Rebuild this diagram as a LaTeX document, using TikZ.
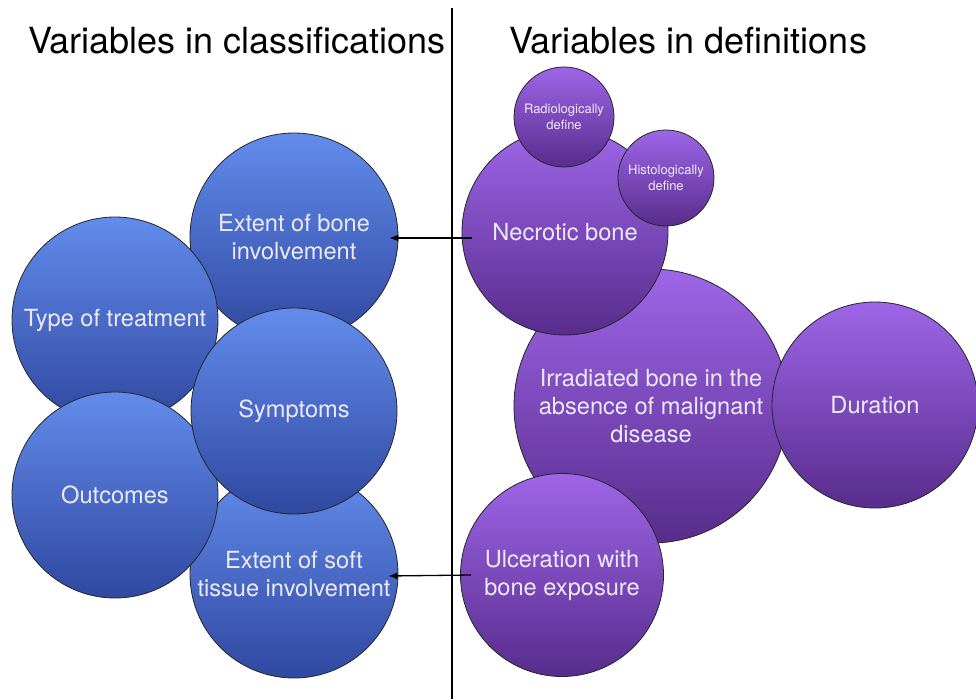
\documentclass[tikz,border=0pt]{standalone}
\usepackage{fontspec}
\setmainfont{TeX Gyre Heros}
\usetikzlibrary{arrows.meta}
\definecolor{blueT}{RGB}{98,140,236}
\definecolor{blueB}{RGB}{48,72,160}
\definecolor{purpT}{RGB}{158,102,232}
\definecolor{purpB}{RGB}{88,44,140}
\definecolor{txtc}{RGB}{236,234,250}
\begin{document}
\begin{tikzpicture}[x=1pt,y=-1pt,
  bubble/.style={circle, draw=black!85, line width=0.8pt, text=txtc, align=center,
    inner sep=0pt, font=\fontsize{23.6}{28}\selectfont},
  bluebub/.style={bubble, top color=blueT, bottom color=blueB},
  purpbub/.style={bubble, top color=purpT, bottom color=purpB},
  smallbub/.style={purpbub, font=\fontsize{13}{15.5}\selectfont},
  title/.style={font=\fontsize{36}{40}\selectfont, text=black, inner sep=0pt},
  conn/.style={line width=1.3pt, -{Latex[length=9pt,width=7pt]}}
]
\useasboundingbox (0,0) rectangle (976,699);
\fill[white] (0,0) rectangle (976,699);

% titles and divider
\node[title] (tl) at (237,41) {Variables in classifications};
\node[title] (tr) at (688,41) {Variables in definitions};
\coordinate (vtop) at (452,8);
\coordinate (vbot) at (452,699);
\draw[line width=1.3pt] (vtop) -- (vbot);

% left: classifications
\node[bluebub, minimum size=208pt] (extbone) at (294,237) {Extent of bone\\involvement};
\node[bluebub, minimum size=208pt] (soft) at (294,574) {Extent of soft\\tissue involvement};
\node[bluebub, minimum size=206pt] (treat) at (115,320) {Type of treatment};
\node[bluebub, minimum size=206pt] (outc) at (115,495) {Outcomes};
\node[bluebub, minimum size=206pt] (symp) at (294,411) {Symptoms};

% right: definitions
\node[purpbub, minimum size=274pt] (irr) at (651,406) {Irradiated bone in the\\absence of malignant\\disease};
\node[purpbub, minimum size=206pt] (dur) at (875,405) {Duration};
\node[purpbub, minimum size=203pt] (ulc) at (562,575) {Ulceration with\\bone exposure};
\node[purpbub, minimum size=206pt] (necr) at (565,232) {Necrotic bone};
\node[smallbub, minimum size=100pt] (radio) at (564,117) {Radiologically\\define};
\node[smallbub, minimum size=96pt] (histo) at (666,178) {Histologically\\define};

% connectors
\draw[conn] ([xshift=10pt,yshift=-6pt]necr.west) -- ([xshift=-9pt,yshift=-1pt]extbone.east);
\draw[conn] ([xshift=11pt]ulc.west) -- ([xshift=-10pt,yshift=-2pt]soft.east);
\end{tikzpicture}
\end{document}
